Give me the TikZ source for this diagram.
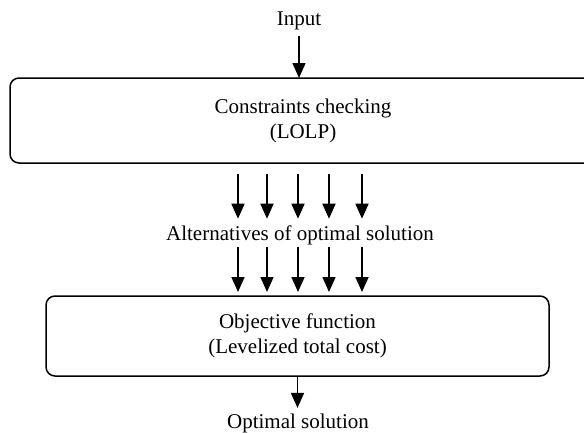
\documentclass[tikz,border=0pt]{standalone}
\usepackage{fontspec}
\setmainfont{Liberation Serif}
\usetikzlibrary{arrows.meta}

\begin{document}
\begin{tikzpicture}[x=1pt,y=-1pt,
	every node/.style={font=\fontsize{21}{25}\selectfont, inner sep=0pt, outer sep=0pt},
	procbox/.style={draw, line width=1.5pt, rounded corners=9pt, align=center},
	flow/.style={line width=1.6pt, -{Triangle[length=15pt,width=13pt]}}]
	\clip (0,0) rectangle (584,432);
	\node [anchor=base] (input) at (299,25) {Input};
	\node [procbox, minimum width=586pt, minimum height=85pt] (check) at (303,120.5) {Constraints checking\\(LOLP)};
	\node [anchor=base] (alt) at (300,240) {Alternatives of optimal solution};
	\node [procbox, minimum width=503pt, minimum height=80pt] (obj) at (297.5,336) {Objective function\\(Levelized total cost)};
	\node [anchor=base] (opt) at (298,428) {Optimal solution};
	\draw [flow, shorten <=7pt] (input.south) -- (input.south |- check.north);
	\foreach \dx in {-62,-33,-2,29,62} {
		\draw [flow, shorten <=11pt, shorten >=6.5pt] ([xshift=\dx pt]alt.north |- check.south) -- ([xshift=\dx pt]alt.north);
		\draw [flow, shorten <=2.5pt, shorten >=4pt] ([xshift=\dx pt]alt.south) -- ([xshift=\dx pt]alt.south |- obj.north);
	}
	\draw [flow, shorten >=5.5pt] (obj.south) -- (obj.south |- opt.north);
\end{tikzpicture}
\end{document}
